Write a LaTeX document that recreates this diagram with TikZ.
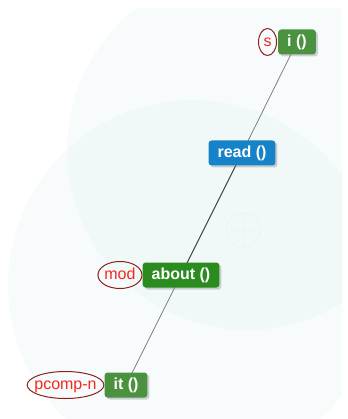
\documentclass[tikz,border=0pt]{standalone}
\usepackage{fontspec}
\setmainfont{Liberation Sans}
\usetikzlibrary{positioning,shapes.geometric,shadows,backgrounds}
\definecolor{wordgreen}{RGB}{74,145,64}
\definecolor{headgreen}{RGB}{42,140,30}
\definecolor{verbblue}{RGB}{22,130,200}
\definecolor{arcred}{RGB}{140,32,28}
\definecolor{labred}{RGB}{245,40,30}
\definecolor{haze}{RGB}{222,238,238}

\begin{document}
\begin{tikzpicture}[x=1pt,y=-1pt,
    word/.style={rectangle, rounded corners=3pt, text=white, inner xsep=9pt,
        minimum height=25pt, text height=12pt, text depth=3.5pt,
        font=\fontsize{16}{18}\selectfont\bfseries,
        drop shadow={shadow xshift=2pt,shadow yshift=-2pt,opacity=0.35}},
    lbl/.style={ellipse, draw=arcred, line width=1pt, text=labred, inner sep=0pt,
        minimum height=27pt, text height=12pt, text depth=3.5pt,
        font=\fontsize{16}{18}\selectfont},
    link/.style={draw=gray, line width=0.8pt}]
    \useasboundingbox (0,0) rectangle (347,419);
    % word nodes
    \node [word, fill=wordgreen] (i) at (297,42) {i ()};
    \node [word, fill=verbblue] (read) at (242,153) {read ()};
    \node [word, fill=headgreen] (about) at (181,275) {about ()};
    \node [word, fill=wordgreen] (it) at (126,385) {it ()};
    % relation labels
    \node [lbl, minimum width=18pt, left=1pt of i] (s) {s};
    \node [lbl, left=0pt of about] (mod) {mod};
    \node [lbl, inner xsep=-4pt, left=0pt of it] (pcompn) {pcomp-n};
    \begin{scope}[on background layer]
        \begin{scope}
            \clip (0,9) rectangle (342,419);
            \fill [haze, opacity=0.25] (247,150) circle [radius=180pt];
            \fill [haze, opacity=0.25] (193,285) circle [radius=185pt];
        \end{scope}
        \node [circle, draw=gray!10, line width=1pt, minimum size=34pt] (hub) at (243,230) {};
        \draw [gray!10, line width=1pt] (hub.north) -- (hub.south);
        \draw [gray!10, line width=1pt] (hub.west) -- (hub.east);
        % links
        \draw [link] (i.center) -- (read.center);
        \draw [link, draw=black!75, line width=1pt] (read.center) -- (about.center);
        \draw [link] (about.center) -- (it.center);
    \end{scope}
\end{tikzpicture}
\end{document}
